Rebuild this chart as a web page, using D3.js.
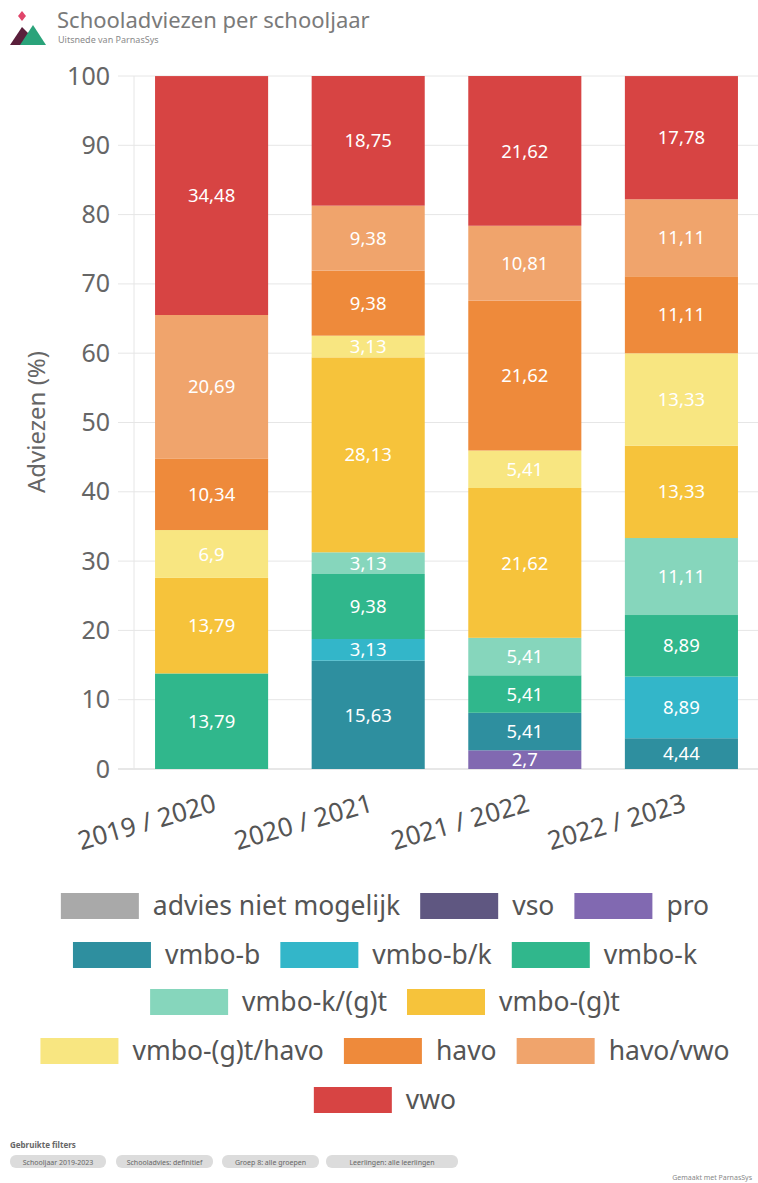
<!DOCTYPE html>
<html><head><meta charset="utf-8">
<script src="https://cdn.jsdelivr.net/npm/d3@7"></script>
<style>
html,body{margin:0;padding:0;background:#fff;}
svg{display:block;font-family:"Noto Sans",sans-serif;}
</style></head>
<body>
<svg id="c" width="758" height="1183"></svg>
<script>
const years = ["2019 / 2020","2020 / 2021","2021 / 2022","2022 / 2023"];
const categories = ["advies niet mogelijk","vso","pro","vmbo-b","vmbo-b/k","vmbo-k","vmbo-k/(g)t","vmbo-(g)t","vmbo-(g)t/havo","havo","havo/vwo","vwo"];
const colors = ["#a9a9a9","#5f5781","#8169b1","#2e8f9f","#33b6c9","#30b78c","#86d6bc","#f6c33b","#f8e681","#ee8a3b","#f0a46c","#d74443"];
// values per category, one entry per school year
const adviesNietMogelijk = [0,0,0,0];
const vso        = [0,0,0,0];
const pro        = [0,0,2.7,0];
const vmboB      = [0,15.63,5.41,4.44];
const vmboBK     = [0,3.13,0,8.89];
const vmboK      = [13.79,9.38,5.41,8.89];
const vmboKGT    = [0,3.13,5.41,11.11];
const vmboGT     = [13.79,28.13,21.62,13.33];
const vmboGTHavo = [6.9,3.13,5.41,13.33];
const havo       = [10.34,9.38,21.62,11.11];
const havoVwo    = [20.69,9.38,10.81,11.11];
const vwo        = [34.48,18.75,21.62,17.78];
const yTicks = [0,10,20,30,40,50,60,70,80,90,100];

const seriesValues = [adviesNietMogelijk,vso,pro,vmboB,vmboBK,vmboK,vmboKGT,vmboGT,vmboGTHavo,havo,havoVwo,vwo];
const rows = years.map((y,i)=>{const o={year:y};categories.forEach((c,j)=>o[c]=seriesValues[j][i]);return o;});

const svg = d3.select("#c");
const font = '"Noto Sans",sans-serif';

// Header
const logo = svg.append("g");
logo.append("path").attr("d","M10,45 L22,27 L30,35 L36,45 Z").attr("fill","#5a1f3b");
logo.append("path").attr("d","M20,45 L33,25 L46,45 Z").attr("fill","#2aa37a");
logo.append("path").attr("d","M22,11 L26,16 L22,21 L18,16 Z").attr("fill","#e0456a");
svg.append("text").attr("x",57).attr("y",28).attr("font-size",22).attr("fill","#7a7a7a").text("Schooladviezen per schooljaar");
svg.append("text").attr("x",58).attr("y",43).attr("font-size",9).attr("fill","#8a8a8a").text("Uitsnede van ParnasSys");

const y = d3.scaleLinear().domain([0,100]).range([769,76]);
const x = d3.scaleBand().domain(years).range([135,758]).paddingInner(0.278).paddingOuter(0.128);

// gridlines
svg.append("g").selectAll("line").data(yTicks).join("line")
  .attr("x1",118).attr("x2",758).attr("y1",d=>y(d)).attr("y2",d=>y(d))
  .attr("stroke",d=>d===0?"#cfcfcf":"#e6e6e6").attr("stroke-width",1);
svg.append("line").attr("x1",134).attr("x2",134).attr("y1",y(100)).attr("y2",y(0)).attr("stroke","#e6e6e6");

const yAxis = svg.append("g").attr("transform","translate(118,0)")
  .call(d3.axisLeft(y).tickValues(yTicks).tickSize(0).tickPadding(8));
yAxis.select(".domain").remove();
yAxis.selectAll("text").attr("font-size",25).attr("fill","#666").attr("font-family",font);

svg.append("text").attr("transform","translate(45,422) rotate(-90)").attr("text-anchor","middle")
  .attr("font-size",24).attr("fill","#666").text("Adviezen (%)");

// bars
const stack = d3.stack().keys(categories)(rows);
const color = d3.scaleOrdinal().domain(categories).range(colors);
const fmt = v => String(v).replace(".",",");
const g = svg.append("g");
stack.forEach(s=>{
  const segs = s.filter(d=>d[1]-d[0]>0);
  g.selectAll(null).data(segs).join("rect")
    .attr("x",d=>x(d.data.year)).attr("width",x.bandwidth())
    .attr("y",d=>y(Math.min(100,d[1]))).attr("height",d=>y(d[0])-y(Math.min(100,d[1])))
    .attr("fill",color(s.key));
  g.selectAll(null).data(segs).join("text")
    .attr("x",d=>x(d.data.year)+x.bandwidth()/2)
    .attr("y",d=>(y(d[0])+y(Math.min(100,d[1])))/2)
    .attr("dy","0.36em").attr("text-anchor","middle").attr("font-size",18.5).attr("fill","#fff")
    .text(d=>fmt(+(d[1]-d[0]).toFixed(2)));
});

// x axis labels
const xAxis = svg.append("g").attr("transform","translate(0,769)")
  .call(d3.axisBottom(x).tickSize(0).tickPadding(0));
xAxis.select(".domain").remove();
xAxis.selectAll("text").attr("font-size",26).attr("fill","#555").attr("font-family",font)
  .attr("text-anchor","end").attr("dy",0)
  .attr("transform","translate(6,42) rotate(-16)");

// legend
const legendRows = [
  {y:906, items:[0,1,2]},
  {y:955, items:[3,4,5]},
  {y:1002, items:[6,7]},
  {y:1051, items:[8,9,10]},
  {y:1100, items:[11]}
];
const fs=26.5, sw=78, sh=26, gapT=14, gapI=20;
const meas = svg.append("text").attr("font-size",fs).attr("visibility","hidden");
const tw = t=>{meas.text(t);return meas.node().getComputedTextLength();};
const lg = svg.append("g");
legendRows.forEach(r=>{
  const widths = r.items.map(i=>sw+gapT+tw(categories[i]));
  const total = d3.sum(widths)+gapI*(r.items.length-1);
  let cx = 385-total/2;
  r.items.forEach((i,k)=>{
    lg.append("rect").attr("x",cx).attr("y",r.y-sh/2).attr("width",sw).attr("height",sh).attr("fill",colors[i]);
    lg.append("text").attr("x",cx+sw+gapT).attr("y",r.y).attr("dy","0.35em").attr("font-size",fs).attr("fill","#555").text(categories[i]);
    cx += widths[k]+gapI;
  });
});
meas.remove();

// footer
svg.append("text").attr("x",10).attr("y",1148).attr("font-size",8).attr("font-weight","bold").attr("fill","#666").text("Gebruikte filters");
const chips = ["Schooljaar 2019-2023","Schooladvies: definitief","Groep 8: alle groepen","Leerlingen: alle leerlingen"];
const chipX = [10,116,222,326], chipW=[96,97,97,132];
chips.forEach((c,i)=>{
  svg.append("rect").attr("x",chipX[i]).attr("y",1155).attr("width",chipW[i]).attr("height",13).attr("rx",6).attr("fill","#dcdcdc");
  svg.append("text").attr("x",chipX[i]+chipW[i]/2).attr("y",1164.5).attr("text-anchor","middle").attr("font-size",7).attr("fill","#666").text(c);
});
svg.append("text").attr("x",752).attr("y",1180).attr("text-anchor","end").attr("font-size",7).attr("fill","#888").text("Gemaakt met ParnasSys");
</script>
</body></html>
